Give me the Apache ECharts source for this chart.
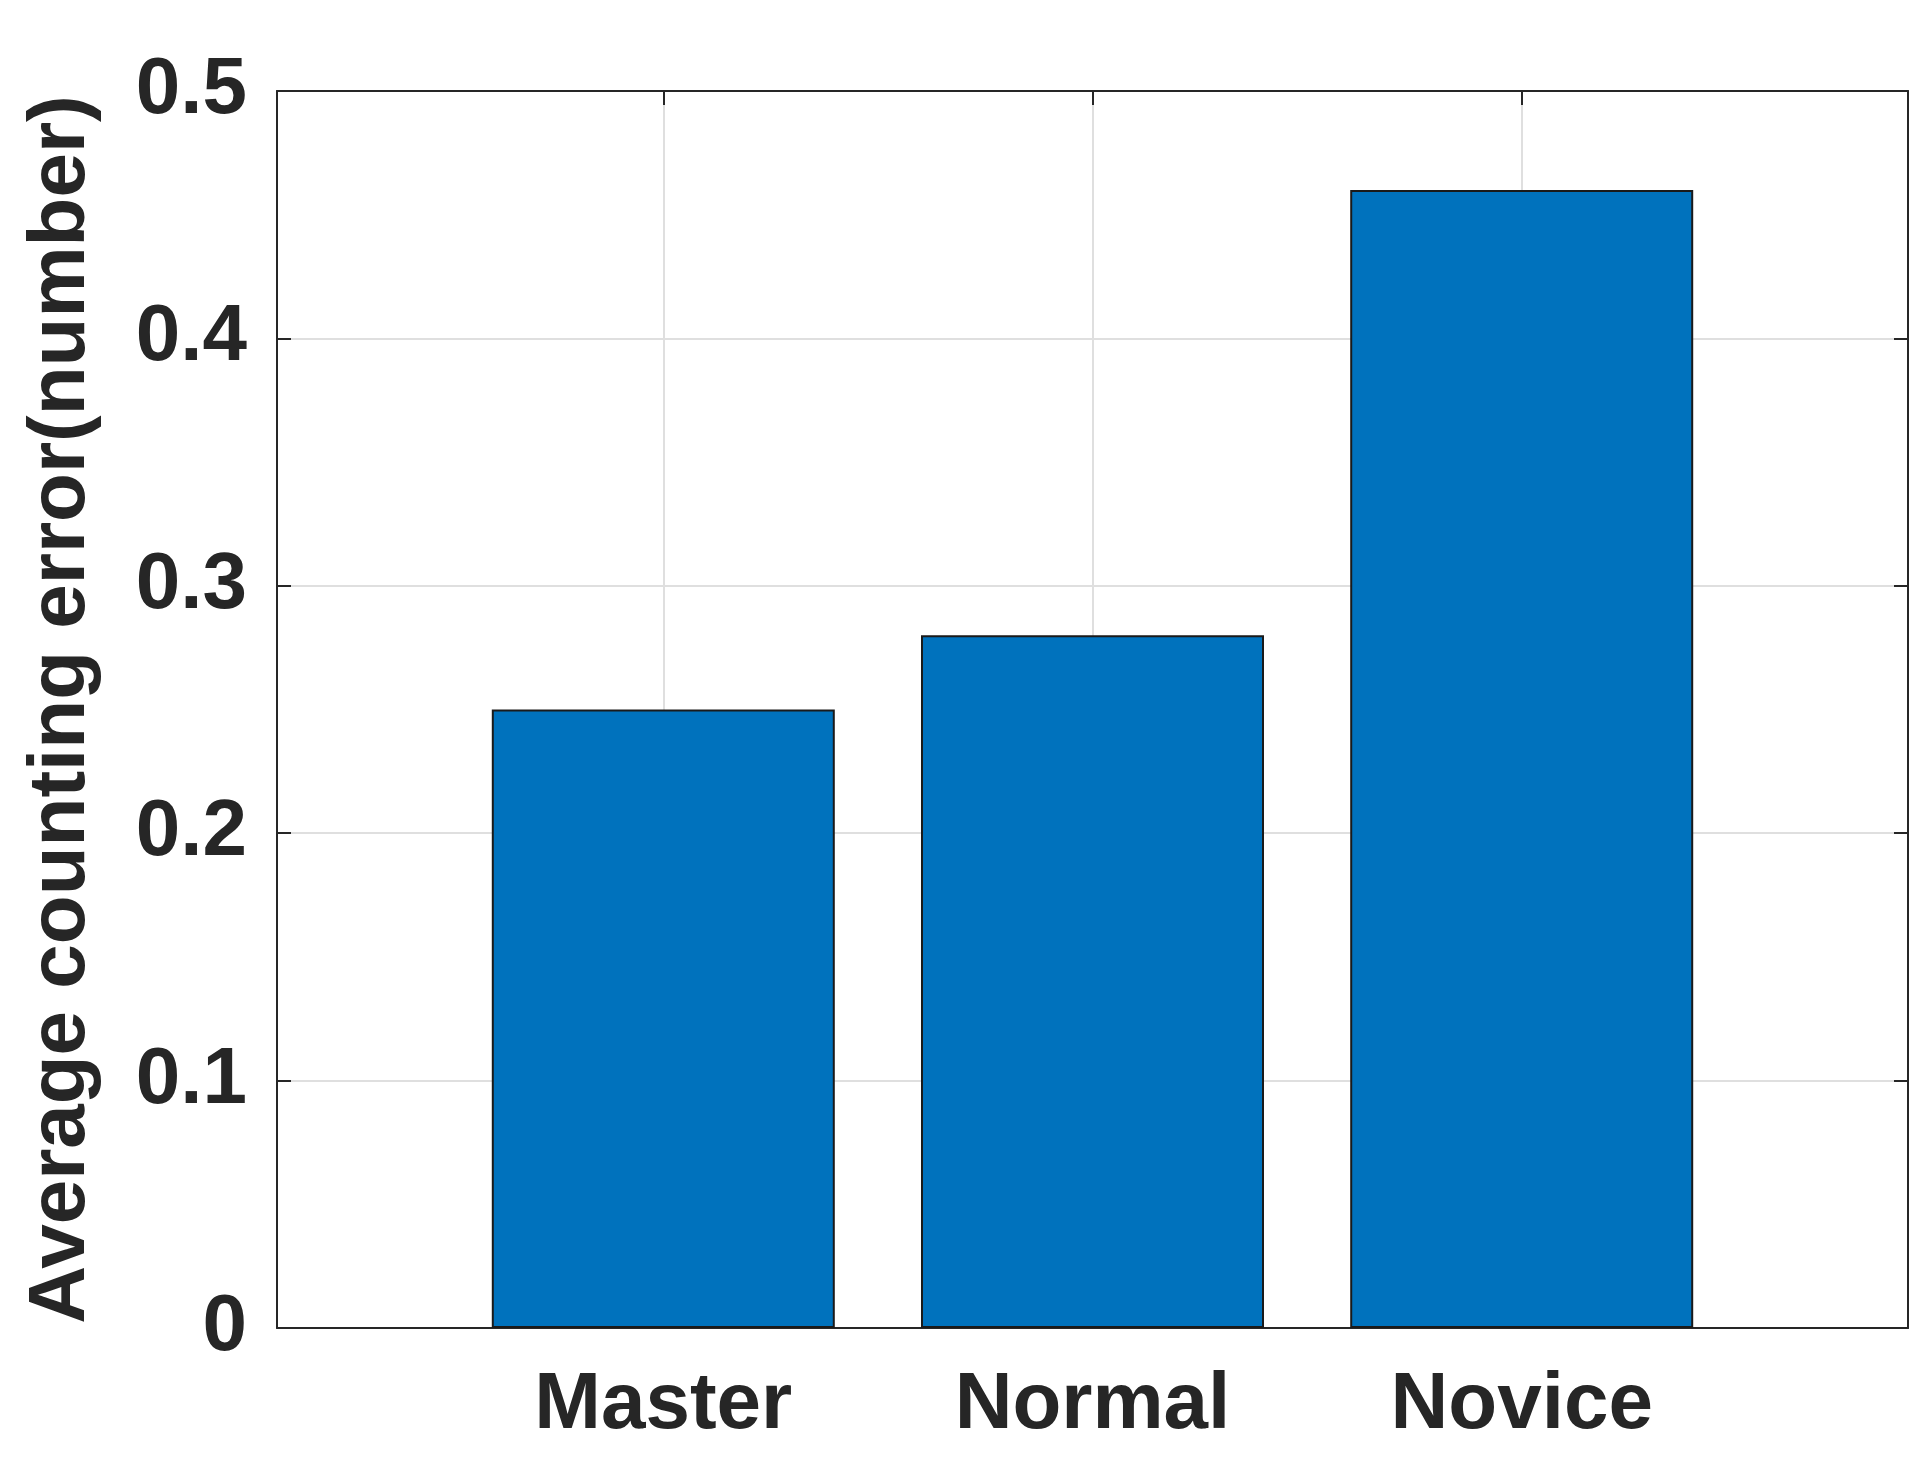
<!DOCTYPE html>
<html>
<head>
<meta charset="utf-8">
<script src="https://cdn.jsdelivr.net/npm/echarts@6/dist/echarts.min.js"></script>
<style>
  html, body { margin: 0; padding: 0; background: #fff; }
  #chart { width: 1922px; height: 1460px; }
</style>
</head>
<body>
<div id="chart"></div>
<script>
// ── Data ──────────────────────────────────────
const categories = ['Master', 'Normal', 'Novice'];
const positions  = [1, 2, 3];
const errors     = [0.25, 0.28, 0.46];
const yTicks     = [0, 0.1, 0.2, 0.3, 0.4, 0.5];

const FONT = 'Liberation Sans, Arial, sans-serif';
const TEXT = '#262626';
const AXIS = '#262626';

const chart = echarts.init(document.getElementById('chart'));

chart.setOption({
  backgroundColor: '#fff',
  animation: false,
  grid: { left: 277, right: 14, top: 91, bottom: 132 },
  xAxis: [{
    type: 'value', min: 0.1, max: 3.9,
    axisLine: { show: true, onZero: false, lineStyle: { color: AXIS, width: 2 } },
    axisTick: { show: true, inside: true, length: 14, customValues: positions, lineStyle: { color: AXIS, width: 2 } },
    axisLabel: {
      customValues: positions, margin: 38,
      formatter: v => categories[positions.indexOf(v)] || '',
      fontFamily: FONT, fontWeight: 'bold', fontSize: 80, color: TEXT
    },
    splitLine: { show: true, lineStyle: { color: '#dfdfdf', width: 2 } }
  }, {
    type: 'value', min: 0.1, max: 3.9, position: 'top',
    axisLine: { show: true, onZero: false, lineStyle: { color: AXIS, width: 2 } },
    axisTick: { show: true, inside: true, length: 14, customValues: positions, lineStyle: { color: AXIS, width: 2 } },
    axisLabel: { show: false }, splitLine: { show: false }
  }],
  yAxis: [{
    type: 'value', min: 0, max: 0.5, interval: 0.1,
    name: 'Average counting error(number)', nameLocation: 'middle', nameGap: 175,
    nameTextStyle: { fontFamily: FONT, fontWeight: 'bold', fontSize: 80, color: TEXT },
    axisLine: { show: true, lineStyle: { color: AXIS, width: 2 } },
    axisTick: { show: true, inside: true, length: 14, lineStyle: { color: AXIS, width: 2 } },
    axisLabel: {
      margin: 30, fontFamily: FONT, fontWeight: 'bold', fontSize: 80, color: TEXT,
      formatter: v => (yTicks.includes(+v.toFixed(1)) ? String(+v.toFixed(1)) : '')
    },
    splitLine: { show: true, lineStyle: { color: '#dfdfdf', width: 2 } }
  }, {
    type: 'value', min: 0, max: 0.5, interval: 0.1, position: 'right',
    axisLine: { show: true, lineStyle: { color: AXIS, width: 2 } },
    axisTick: { show: true, inside: true, length: 14, lineStyle: { color: AXIS, width: 2 } },
    axisLabel: { show: false }, splitLine: { show: false }
  }],
  series: [{
    type: 'bar',
    xAxisIndex: 0, yAxisIndex: 0,
    data: positions.map((p, i) => [p, errors[i]]),
    barWidth: 343,
    itemStyle: { color: '#0072BD', borderColor: '#1a1a1a', borderWidth: 2 }
  }]
});
</script>
</body>
</html>
